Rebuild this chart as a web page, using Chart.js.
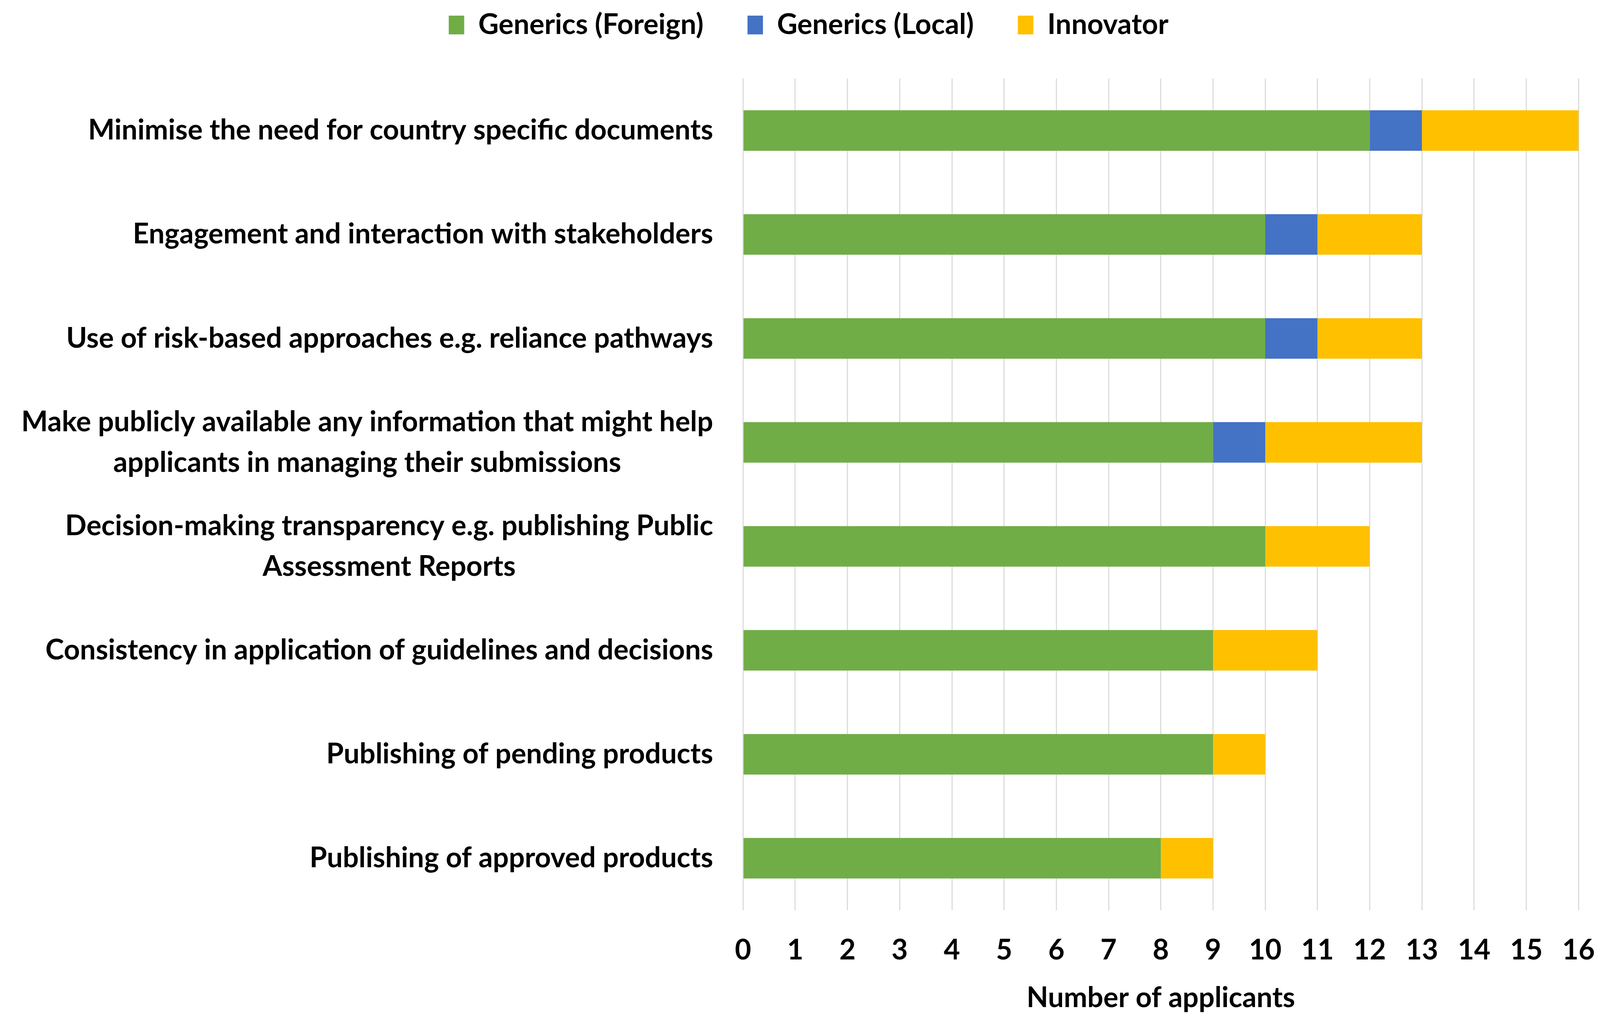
<!DOCTYPE html>
<html>
<head>
<meta charset="utf-8">
<script src="https://cdn.jsdelivr.net/npm/chart.js@4.4.0/dist/chart.umd.min.js"></script>
<style>
  html, body { margin: 0; padding: 0; background: #ffffff; overflow: hidden; }
  #wrap { position: absolute; left: 0; top: 0; width: 100vw; height: 100vh; }
</style>
</head>
<body>
<div id="wrap"><canvas id="grafico"></canvas></div>
<script>
// ---------------------------------------------------------------------------
// data
// ---------------------------------------------------------------------------
const categorias = [
    "Minimise the need for country specific documents",
    "Engagement and interaction with stakeholders",
    "Use of risk-based approaches e.g. reliance pathways",
    ["Make publicly available any information that might help", "applicants in managing their submissions"],
    ["Decision-making transparency e.g. publishing Public", "Assessment Reports"],
    "Consistency in application of guidelines and decisions",
    "Publishing of pending products",
    "Publishing of approved products"
];
const genericosEstrangeiros = [12, 10, 10, 9, 10, 9, 9, 8];
const genericosLocais       = [1, 1, 1, 1, 0, 0, 0, 0];
const inovadores            = [3, 2, 2, 3, 2, 2, 1, 1];
const nomesSeries = ["Generics (Foreign)", "Generics (Local)", "Innovator"];
const ticksX = [0, 1, 2, 3, 4, 5, 6, 7, 8, 9, 10, 11, 12, 13, 14, 15, 16];
const tituloX = "Number of applicants";

// ---------------------------------------------------------------------------
// style (sizes given for a 4550x2611 picture, scaled to the window)
// ---------------------------------------------------------------------------
const kx = window.innerWidth / 4550;
const ky = window.innerHeight / 2611;
const px = v => v * kx;
const py = v => v * ky;
const FONTE = "Lato";
const TAM = px(80);
const meiaLinha = TAM * 1.2 / 2;
const cores = ['#70AD47', '#4472C4', '#FFC000'];
const margemEsq = px(110);
const margemDir = px(61);

// legend: centre of the row and top of the plot area
const padLegenda = px(125);
const topoLegenda = py(64) - padLegenda - TAM / 2;
const baseLegenda = py(64) + TAM / 2 + 10;

// category labels drawn centred line-by-line, block right-aligned to the axis
const rotulosY = {
    id: 'rotulosY',
    afterDraw(chart) {
        const ctx = chart.ctx;
        const y = chart.scales.y;
        const direita = chart.chartArea.left - px(85);
        const altLinha = py(104);
        ctx.save();
        ctx.font = `bold ${TAM}px ${FONTE}`;
        ctx.fillStyle = '#000000';
        ctx.textAlign = 'center';
        ctx.textBaseline = 'middle';
        categorias.forEach((rot, i) => {
            const linhas = Array.isArray(rot) ? rot : [rot];
            const larg = Math.max(...linhas.map(l => ctx.measureText(l).width));
            const cx = direita - larg / 2;
            const cy = y.getPixelForTick(i);
            linhas.forEach((l, n) => {
                ctx.fillText(l, cx, cy + (n - (linhas.length - 1) / 2) * altLinha);
            });
        });
        ctx.restore();
    }
};

new Chart(document.getElementById('grafico'), {
    type: 'bar',
    data: {
        labels: categorias,
        datasets: [
            { label: nomesSeries[0], data: genericosEstrangeiros, backgroundColor: cores[0] },
            { label: nomesSeries[1], data: genericosLocais, backgroundColor: cores[1] },
            { label: nomesSeries[2], data: inovadores, backgroundColor: cores[2] }
        ]
    },
    options: {
        indexAxis: 'y',
        responsive: true,
        maintainAspectRatio: false,
        animation: false,
        barPercentage: 0.39,
        categoryPercentage: 1,
        layout: { padding: { top: topoLegenda, right: margemDir, bottom: 0, left: margemEsq } },
        plugins: {
            tooltip: { enabled: false },
            legend: {
                position: 'top',
                labels: {
                    font: { family: FONTE, size: TAM, weight: 'bold' },
                    color: '#000000',
                    boxWidth: px(44),
                    boxHeight: py(48),
                    padding: padLegenda
                }
            }
        },
        scales: {
            x: {
                stacked: true,
                min: 0,
                max: 16,
                afterBuildTicks: s => { s.ticks = ticksX.map(v => ({ value: v })); },
                afterFit: s => {
                    s.height = py(281);
                    // end labels may overhang into the page margins
                    s.paddingLeft = 0;
                    s.paddingRight = 0;
                },
                grid: { color: '#d9d9d9', lineWidth: px(3), drawTicks: false },
                border: { display: false },
                ticks: {
                    font: { family: FONTE, size: TAM, weight: 'bold', lineHeight: 1.2 },
                    color: '#000000',
                    padding: py(103) - meiaLinha
                },
                title: {
                    display: true,
                    text: tituloX,
                    font: { family: FONTE, size: TAM, weight: 'bold', lineHeight: 1.2 },
                    color: '#000000',
                    padding: { top: 0, bottom: Math.max(0, py(56) - meiaLinha) }
                }
            },
            espaco: {
                axis: 'x',
                type: 'linear',
                position: 'top',
                display: true,
                afterFit: s => { s.height = Math.max(0, py(201) - baseLegenda); },
                grid: { display: false },
                border: { display: false },
                ticks: { display: false }
            },
            y: {
                stacked: true,
                afterFit: s => { s.width = px(2113) - margemEsq; },
                grid: { display: false },
                border: { display: false },
                ticks: { display: false }
            }
        }
    },
    plugins: [rotulosY]
});
</script>
</body>
</html>
